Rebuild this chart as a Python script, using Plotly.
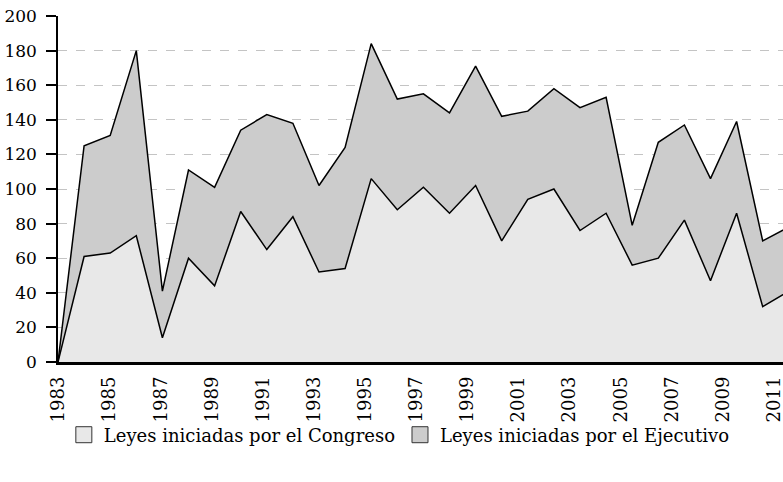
import plotly.graph_objects as go

years = list(range(1983, 2012))
congreso = [0, 61, 63, 73, 14, 60, 44, 87, 65, 84, 52, 54, 106, 88, 101, 86, 102, 70, 94, 100,
            76, 86, 56, 60, 82, 47, 86, 32, 41]
total = [0, 125, 131, 180, 41, 111, 101, 134, 143, 138, 102, 124, 184, 152, 155, 144, 171, 142, 145, 158,
         147, 153, 79, 127, 137, 106, 139, 70, 78]
ejecutivo = [t - c for t, c in zip(total, congreso)]
tick_years = list(range(1983, 2012, 2))
series_names = ["Leyes iniciadas por el Congreso", "Leyes iniciadas por el Ejecutivo"]
fills = ["#e8e8e8", "#cccccc"]

FONT = "DejaVu Serif"

fig = go.Figure()
for vals, name, fc in zip([congreso, ejecutivo], series_names, fills):
    fig.add_trace(go.Scatter(x=years, y=vals, name=name, mode="lines", stackgroup="a",
                             line=dict(color="black", width=1.5), fillcolor=fc,
                             showlegend=False))
# legend entries as square boxes
for name, fc in zip(series_names, fills):
    fig.add_trace(go.Scatter(x=[None], y=[None], name=name, mode="markers",
                             marker=dict(symbol="square", size=18, color=fc,
                                         line=dict(color="#333333", width=1))))
# invisible trace to activate label axis
fig.add_trace(go.Scatter(x=[1983, 2011], y=[None, None], xaxis="x2", showlegend=False,
                         hoverinfo="skip", mode="lines"))

fig.update_layout(
    width=783, height=482,
    margin=dict(l=58, r=0, t=16, b=120),
    plot_bgcolor="white", paper_bgcolor="white",
    font=dict(family=FONT, size=18, color="black"),
    xaxis=dict(range=[1983, 1983 + 725 / 26.1], showticklabels=False, ticks="",
               showgrid=False, zeroline=False, showline=True, linecolor="black",
               linewidth=2.5, automargin=False),
    xaxis2=dict(overlaying="x", anchor="y", side="bottom",
                range=[1982.98, 2011.35],
                tickvals=tick_years, ticktext=[str(y) for y in tick_years],
                tickangle=-90, ticks="", showgrid=False, zeroline=False, showline=False,
                ticklabelstandoff=10, automargin=False, ticklabeloverflow="allow",
                tickfont=dict(family=FONT, size=18, color="black")),
    yaxis=dict(range=[0, 200], dtick=20, ticks="outside", ticklen=10, tickcolor="black",
               tickwidth=1.5, showline=True, linecolor="black", linewidth=1.5,
               showgrid=True, gridcolor="#c4c4c4", griddash="dash", gridwidth=1,
               zeroline=False, automargin=False, ticklabelstandoff=6,
               tickfont=dict(family=FONT, size=17, color="black")),
    legend=dict(orientation="h", xref="container", yref="container",
                x=0.51, y=0.0975, xanchor="center", yanchor="middle",
                bgcolor="rgba(0,0,0,0)",
                font=dict(family=FONT, size=18, color="black"),
                traceorder="normal"),
    showlegend=True,
)

fig.write_html("out.html", config={"displayModeBar": False},
               post_script="document.body.style.margin='0';document.body.style.overflow='hidden';")
